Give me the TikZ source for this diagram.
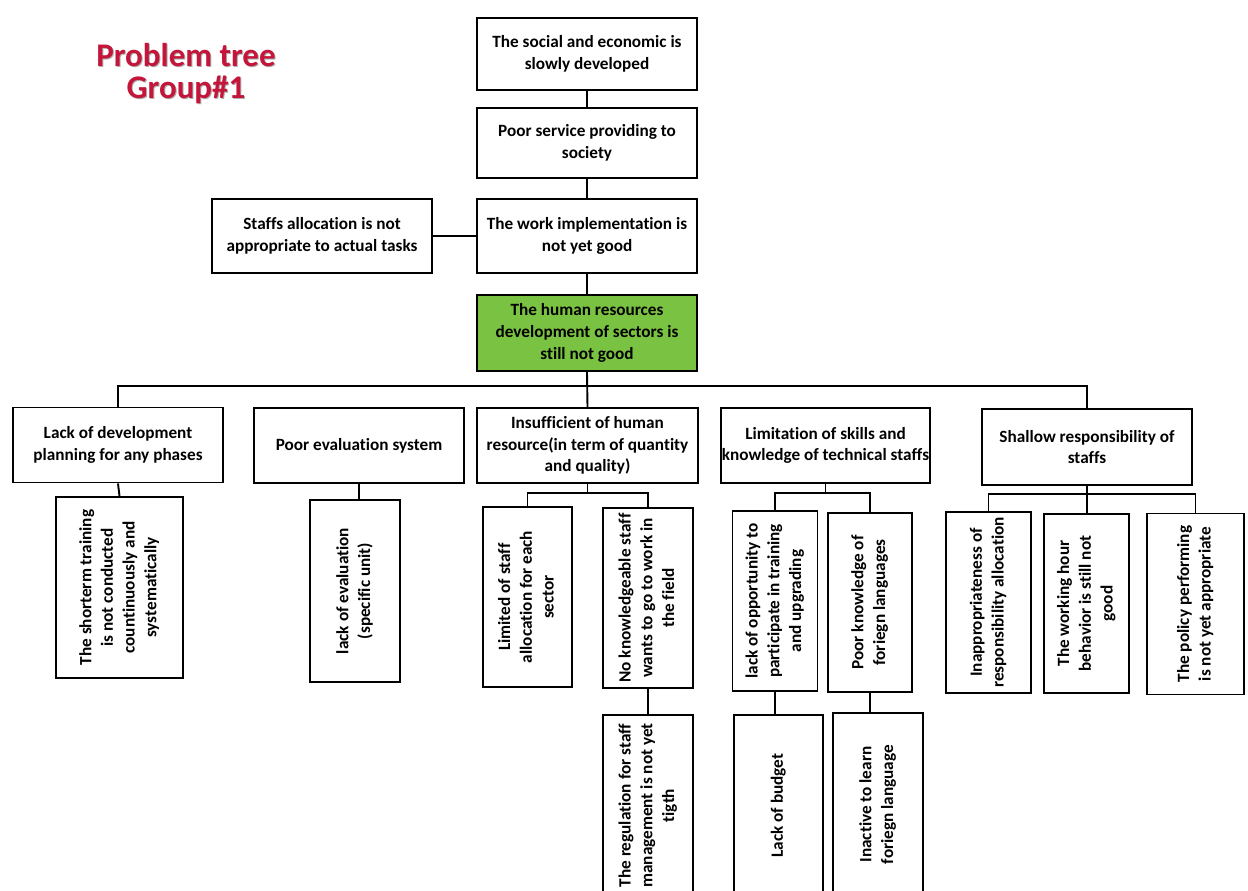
\documentclass[tikz,border=0pt]{standalone}
\usepackage{fontspec}
\setmainfont{Carlito}[Ligatures=NoCommon]
\usepackage{graphicx}
\definecolor{titlered}{RGB}{196,22,58}
\definecolor{titleshade}{RGB}{175,175,175}
\definecolor{coregreen}{RGB}{122,194,66}
\newcommand\boxfont{\fontsize{17.2}{21.7}\selectfont\bfseries}
\newcommand\titlefont{\fontsize{33}{35}\selectfont\bfseries}
% vertical (bottom-to-top) multi-line label
\newcommand\rottext[1]{\rotatebox{90}{\begin{tabular}{@{}c@{}}#1\end{tabular}}}

\begin{document}
\begin{tikzpicture}[x=1pt,y=-1pt,
  box/.style={draw, line width=1.9pt, inner sep=0pt, align=center, font=\boxfont, fill=white},
  link/.style={line width=1.9pt},
  ttl/.style={font=\titlefont, text=titlered, inner sep=0pt},
  ttlshade/.style={font=\titlefont, text=titleshade, inner sep=0pt}]
\useasboundingbox (0,0) rectangle (1248,891);
\clip (0,0) rectangle (1248,891);

% title
\node[ttlshade] (titleAs) at (187,56) {Problem tree};
\node[ttlshade] (titleBs) at (187,91) {Group\#1};
\node[ttl] (titleA) at (186,55) {Problem tree};
\node[ttl] (titleB) at (186,90) {Group\#1};

% effects and core problem
\node[box, minimum width=220, minimum height=72] (soc) at (587,54)
  {The social and economic is\\slowly developed};
\node[box, minimum width=220, minimum height=70] (serv) at (587,143)
  {Poor service providing to\\society};
\node[box, minimum width=220, minimum height=74] (work) at (587,236)
  {The work implementation is\\not yet good};
\node[box, minimum width=220, minimum height=74] (alloc) at (322,236)
  {Staffs allocation is not\\appropriate to actual tasks};
\node[box, fill=coregreen, minimum width=220, minimum height=76] (core) at (587,333)
  {The human resources\\development of sectors is\\still not good};

% main causes
\node[box, minimum width=210, minimum height=75] (lack) at (118,445)
  {Lack of development\\planning for any phases};
\node[box, minimum width=210, minimum height=75] (eval) at (359,445.5)
  {Poor evaluation system};
\node[box, minimum width=221, minimum height=75] (insuf) at (587.5,445.5)
  {Insufficient of human\\resource(in term of quantity\\and quality)};
\node[box, minimum width=209, minimum height=75] (limit) at (825.5,445.5)
  {Limitation of skills and\\knowledge of technical staffs};
\node[box, minimum width=210, minimum height=76] (shal) at (1087,447)
  {Shallow responsibility of\\staffs};

% sub-causes
\node[box, minimum width=127, minimum height=181] (shortt) at (119.5,587.5)
  {\rottext{The shorterm training\\is not conducted\\countinuously and\\systematically}};
\node[box, minimum width=90, minimum height=182] (evunit) at (355,591)
  {\rottext{lack of evaluation\\(specific unit)}};
\node[box, minimum width=89, minimum height=180] (limstaff) at (527.5,597)
  {\rottext{Limited of staff\\allocation for each\\sector}};
\node[box, minimum width=90, minimum height=180] (noknow) at (648,598)
  {\rottext{No knowledgeable staff\\wants to go to work in\\the field}};
\node[box, minimum width=90, minimum height=181] (regul) at (648,805.5)
  {\rottext{The regulation for staff\\management is not yet\\tigth}};
\node[box, minimum width=85, minimum height=180] (opport) at (775,601)
  {\rottext{lack of opportunity to\\participate in training\\and upgrading}};
\node[box, minimum width=84, minimum height=179] (forlang) at (870,602.5)
  {\rottext{Poor knowledge of\\foriegn languages}};
\node[box, minimum width=89, minimum height=181] (budget) at (778.5,805.5)
  {\rottext{Lack of budget}};
\node[box, minimum width=90, minimum height=183] (inact) at (878,804.5)
  {\rottext{Inactive to learn\\foriegn language}};
\node[box, minimum width=85, minimum height=181] (inappr) at (988.5,602.5)
  {\rottext{Inappropriateness of\\responsibility allocation}};
\node[box, minimum width=85, minimum height=179] (workhr) at (1086.5,603.5)
  {\rottext{The working hour\\behavior is still not\\good}};
\node[box, minimum width=97, minimum height=181] (policy) at (1195.5,604)
  {\rottext{The policy performing\\is not yet appropriate}};

% connectors
\coordinate (bus) at (587,386);
\draw[link] (soc) -- (serv);
\draw[link] (serv) -- (work);
\draw[link] (work) -- (core);
\draw[link] (alloc) -- (work);
\draw[link] (core.south) -- (insuf.north);
\draw[link] (lack.north) |- (bus) -| (shal.north);

\draw[link] (lack.south) -- (shortt.north);
\draw[link] (eval.south) -- (eval.south |- evunit.north);

\draw[link] (insuf.south) -- ++(0,9) coordinate (insbus);
\draw[link] (limstaff.north) |- (insbus) -| (noknow.north);
\draw[link] (noknow.south) -- (regul.north);

\draw[link] (limit.south) -- ++(0,9) coordinate (limbus);
\draw[link] (opport.north) |- (limbus) -| (forlang.north);
\draw[link] (opport.south) -- (opport.south |- budget.north);
\draw[link] (forlang.south) -- (forlang.south |- inact.north);

\draw[link] (shal.south) -- ++(0,8) coordinate (shalbus);
\draw[link] (inappr.north) |- (shalbus) -| (policy.north);
\draw[link] (shalbus) -- (shalbus |- workhr.north);
\end{tikzpicture}
\end{document}
